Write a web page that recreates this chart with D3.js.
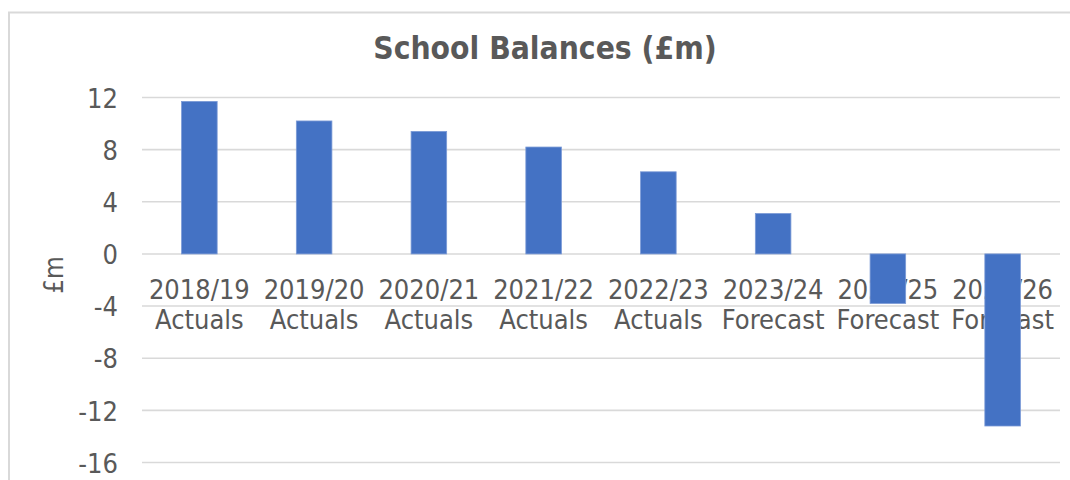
<!DOCTYPE html>
<html>
<head>
<meta charset="utf-8">
<script src="https://cdn.jsdelivr.net/npm/d3@7"></script>
<style>
  html, body { margin: 0; padding: 0; background: #ffffff; }
  svg { display: block; }
  text { font-family: "DejaVu Sans Condensed", "DejaVu Sans", sans-serif; fill: #595959; }
</style>
</head>
<body>
<svg id="chart" width="1070" height="480"></svg>
<script>
// School balances by financial year (£m)
const years = ["2018/19", "2019/20", "2020/21", "2021/22", "2022/23", "2023/24", "2024/25", "2025/26"];
const status = ["Actuals", "Actuals", "Actuals", "Actuals", "Actuals", "Forecast", "Forecast", "Forecast"];
const balances = [11.7, 10.2, 9.4, 8.2, 6.3, 3.1, -3.8, -13.2];
const yTicks = [12, 8, 4, 0, -4, -8, -12, -16];

const svg = d3.select("#chart");

// chart frame
svg.append("rect")
  .attr("x", 9).attr("y", 12.5)
  .attr("width", 1070).attr("height", 480)
  .attr("fill", "none")
  .attr("stroke", "#d9d9d9")
  .attr("stroke-width", 2);

const x = d3.scaleBand()
  .domain(years)
  .range([142, 1060])
  .paddingInner(0.69)
  .paddingOuter(0.345);

const y = d3.scaleLinear()
  .domain([-16, 12])
  .range([462.5, 97.5]);

// horizontal gridlines
svg.append("g")
  .selectAll("line")
  .data(yTicks)
  .join("line")
  .attr("x1", 142).attr("x2", 1060)
  .attr("y1", d => y(d)).attr("y2", d => y(d))
  .attr("stroke", "#d9d9d9")
  .attr("stroke-width", 1.6);

// value axis labels (plain hyphen for negatives)
const yAxis = d3.axisLeft(y).tickValues(yTicks).tickSize(0).tickPadding(0)
  .tickFormat(d => String(d));
const gy = svg.append("g").attr("transform", "translate(118,0)").call(yAxis);
gy.select(".domain").remove();
gy.selectAll(".tick line").remove();
gy.selectAll("text")
  .attr("font-size", 27)
  .attr("font-family", null)
  .attr("dy", "0.36em")
  .attr("fill", "#595959");

// category labels sit next to the zero line
const cat = svg.append("g")
  .selectAll("text")
  .data(years)
  .join("text")
  .attr("text-anchor", "middle")
  .attr("font-size", 27);
cat.append("tspan")
  .attr("x", d => x(d) + x.bandwidth() / 2)
  .attr("y", y(0) + 45)
  .text(d => d);
cat.append("tspan")
  .attr("x", d => x(d) + x.bandwidth() / 2)
  .attr("y", y(0) + 75)
  .text((d, i) => status[i]);

// bars
svg.append("g")
  .selectAll("rect")
  .data(balances)
  .join("rect")
  .attr("x", (d, i) => x(years[i]))
  .attr("width", x.bandwidth())
  .attr("y", d => y(Math.max(0, d)))
  .attr("height", d => Math.abs(y(d) - y(0)))
  .attr("fill", "#4472c4")
  .attr("stroke", "#7b9ad6")
  .attr("stroke-width", 0.8);

// axis title
svg.append("text")
  .attr("transform", "translate(63,275) rotate(-90)")
  .attr("text-anchor", "middle")
  .attr("font-size", 26)
  .text("£m");

// chart title
svg.append("text")
  .attr("x", 545)
  .attr("y", 59)
  .attr("text-anchor", "middle")
  .attr("font-size", 31.5)
  .attr("font-weight", "bold")
  .text("School Balances (£m)");
</script>
</body>
</html>
